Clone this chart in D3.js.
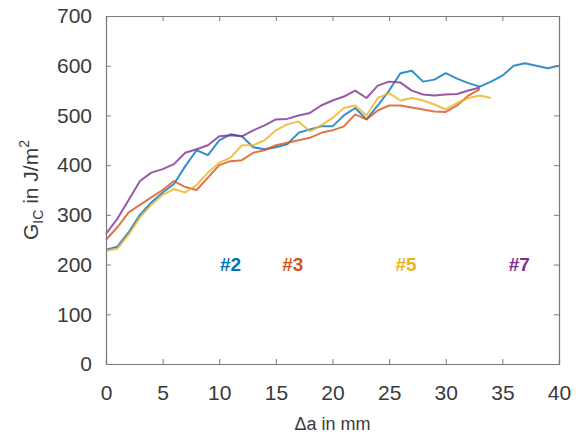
<!DOCTYPE html>
<html>
<head>
<meta charset="utf-8">
<script src="https://cdn.jsdelivr.net/npm/d3@7"></script>
<style>
  html, body { margin: 0; padding: 0; background: #fff; }
  svg { display: block; font-family: "Liberation Sans", Arial, Helvetica, sans-serif; }
</style>
</head>
<body>
<svg id="chart" width="576" height="436"></svg>
<script>
// Crack extension (mm) and critical energy release rate G_IC (J/m^2) per specimen
const xTicks = [0, 5, 10, 15, 20, 25, 30, 35, 40];
const yTicks = [0, 100, 200, 300, 400, 500, 600, 700];

const aSpec2 = [0,1,2,3,4,5,6,7,8,9,10,11,12,13,14,15,16,17,18,19,20,21,22,23,24,25,26,27,28,29,30,31,32,33,34,35,36,37,38,39,40];
const gSpec2 = [230,236,265,300,325,345,362,398,430,420,450,462,458,436,432,436,442,465,472,478,478,500,515,492,520,550,585,590,568,572,585,574,565,558,568,580,600,605,600,595,600];

const aSpec3 = [0,1,2,3,4,5,6,7,8,9,10,11,12,13,14,15,16,17,18,19,20,21,22,23,24,25,26,27,28,29,30,31,32,33];
const gSpec3 = [250,275,305,320,335,350,368,356,350,375,400,408,410,425,430,440,445,450,455,465,470,478,502,492,510,520,520,516,512,508,507,520,540,553];

const aSpec5 = [0,1,2,3,4,5,6,7,8,9,10,11,12,13,14,15,16,17,18,19,20,21,22,23,24,25,26,27,28,29,30,31,32,33,34];
const gSpec5 = [228,232,260,295,320,340,352,345,360,385,405,415,440,440,450,470,482,488,468,480,495,515,520,500,535,545,530,535,530,522,512,525,535,540,535];

const aSpec7 = [0,1,2,3,4,5,6,7,8,9,10,11,12,13,14,15,16,17,18,19,20,21,22,23,24,25,26,27,28,29,30,31,32,33];
const gSpec7 = [262,292,330,368,385,392,402,425,432,440,458,460,458,470,480,492,493,500,505,520,530,538,550,535,560,568,566,550,542,540,542,543,550,556];

const seriesNames = ["#2", "#3", "#5", "#7"];
const seriesColors = ["#0072BD", "#D95319", "#EDB120", "#7E2F8E"];
const labelX = [11, 16.5, 26.5, 36.5];
const labelY = 200;

const series = [
  { a: aSpec2, g: gSpec2 },
  { a: aSpec3, g: gSpec3 },
  { a: aSpec5, g: gSpec5 },
  { a: aSpec7, g: gSpec7 }
];

const svg = d3.select("#chart");
const margin = { left: 106, right: 17, top: 16, bottom: 72 };
const W = 576, H = 436;

const x = d3.scaleLinear().domain([0, 40]).range([margin.left, W - margin.right]);
const y = d3.scaleLinear().domain([0, 700]).range([H - margin.bottom, margin.top]);

const axisColor = "#7a7a7a";
const textColor = "#3a3a3a";

// Data lines
const line = d3.line().x(d => x(d[0])).y(d => y(d[1]));
series.forEach((s, i) => {
  const pts = s.a.map((v, k) => [v, s.g[k]]);
  svg.append("path")
    .datum(pts)
    .attr("fill", "none")
    .attr("stroke", seriesColors[i])
    .attr("stroke-width", 2)
    .attr("stroke-opacity", 0.8)
    .attr("stroke-linejoin", "round")
    .attr("d", line);
});

// Axes (ticks inward, mirrored on top/right)
const tickLen = 5;
const gx = svg.append("g").attr("transform", `translate(0,${y(0)})`)
  .call(d3.axisBottom(x).tickValues(xTicks).tickSize(-tickLen).tickPadding(21).tickFormat(d3.format("d")));
const gy = svg.append("g").attr("transform", `translate(${x(0)},0)`)
  .call(d3.axisLeft(y).tickValues(yTicks).tickSize(-tickLen).tickPadding(14).tickFormat(d3.format("d")));
const gxt = svg.append("g").attr("transform", `translate(0,${y(700)})`)
  .call(d3.axisTop(x).tickValues(xTicks).tickSize(-tickLen).tickFormat(""));
const gyr = svg.append("g").attr("transform", `translate(${x(40)},0)`)
  .call(d3.axisRight(y).tickValues(yTicks).tickSize(-tickLen).tickFormat(""));

[gx, gy, gxt, gyr].forEach(g => {
  g.select(".domain").attr("stroke", axisColor).attr("stroke-width", 1.2);
  g.selectAll(".tick line").attr("stroke", axisColor);
  g.selectAll(".tick text").attr("fill", textColor).style("font-size", "21px");
});

// Axis titles
svg.append("text")
  .attr("x", (x(0) + x(40)) / 2)
  .attr("y", 430)
  .attr("text-anchor", "middle")
  .attr("fill", textColor)
  .style("font-size", "18px")
  .text("Δa in mm");

const yl = svg.append("text")
  .attr("transform", `translate(38,${(y(0) + y(700)) / 2}) rotate(-90)`)
  .attr("text-anchor", "middle")
  .attr("fill", textColor)
  .style("font-size", "21px");
yl.append("tspan").text("G");
yl.append("tspan").attr("dy", 5).style("font-size", "14px").text("IC");
yl.append("tspan").attr("dy", -5).text(" in J/m");
yl.append("tspan").attr("dy", -9).style("font-size", "14px").text("2");

// Specimen labels
seriesNames.forEach((n, i) => {
  svg.append("text")
    .attr("x", x(labelX[i]))
    .attr("y", y(labelY))
    .attr("dy", "0.35em")
    .attr("text-anchor", "middle")
    .attr("fill", seriesColors[i])
    .style("font-size", "19px")
    .style("font-weight", "bold")
    .text(n);
});
</script>
</body>
</html>
